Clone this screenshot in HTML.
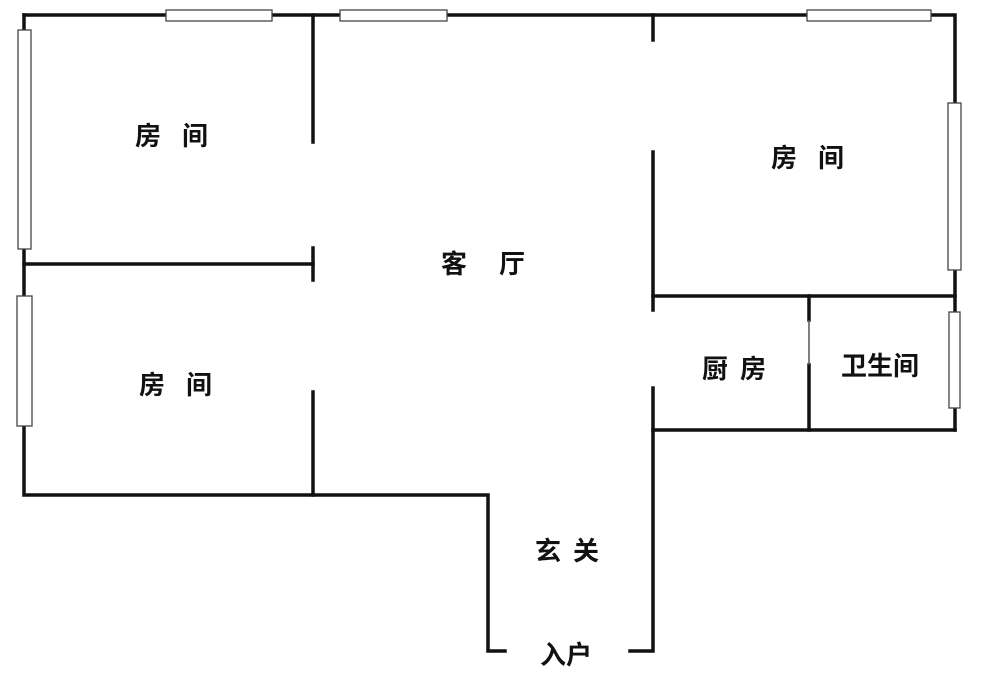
<!DOCTYPE html>
<html><head><meta charset="utf-8"><style>
html,body{margin:0;padding:0;background:#fff;}
svg{display:block}
text{font-family:"Liberation Sans","Noto Sans CJK SC",sans-serif;font-weight:bold;font-size:26px;fill:#111;}
</style></head><body>
<svg width="1000" height="678" viewBox="0 0 1000 678">
<g stroke="#111" stroke-width="3.5" fill="none" stroke-linecap="square">
<!-- outer top -->
<path d="M24 15 H955 V430"/>
<path d="M24 15 V495 H488 V651 H505"/>
<path d="M630 651 H653 V388"/>
<path d="M653 310 V152"/>
<path d="M653 15 V40"/>
<path d="M653 296 H955"/>
<path d="M653 430 H955"/>
<path d="M809 296 V320"/>
<path d="M809 365 V430"/>
<!-- left rooms -->
<path d="M313 15 V142"/>
<path d="M24 264 H313"/>
<path d="M313 248 V280"/>
<path d="M313 392 V495"/>
</g>
<path d="M809 320 V365" stroke="#555" stroke-width="1.5"/>
<g fill="#fff" stroke="#444" stroke-width="1.3">
<rect x="166" y="10" width="106" height="11"/>
<rect x="340" y="10" width="107" height="11"/>
<rect x="807" y="10" width="124" height="11"/>
<rect x="18" y="30" width="13" height="219"/>
<rect x="17" y="296" width="15" height="130"/>
<rect x="948" y="103" width="13" height="167"/>
<rect x="949" y="312" width="11" height="96"/>
</g>
<text x="135" y="145">房</text><text x="182" y="145">间</text>
<text x="139" y="394">房</text><text x="186" y="394">间</text>
<text x="771" y="167">房</text><text x="818" y="167">间</text>
<text x="441" y="273">客</text><text x="499" y="273">厅</text>
<text x="702" y="378">厨</text><text x="740" y="378">房</text>
<text x="841" y="375">卫生间</text>
<text x="535" y="560">玄</text><text x="573" y="560">关</text>
<text x="540" y="664">入户</text>
</svg>
</body></html>
